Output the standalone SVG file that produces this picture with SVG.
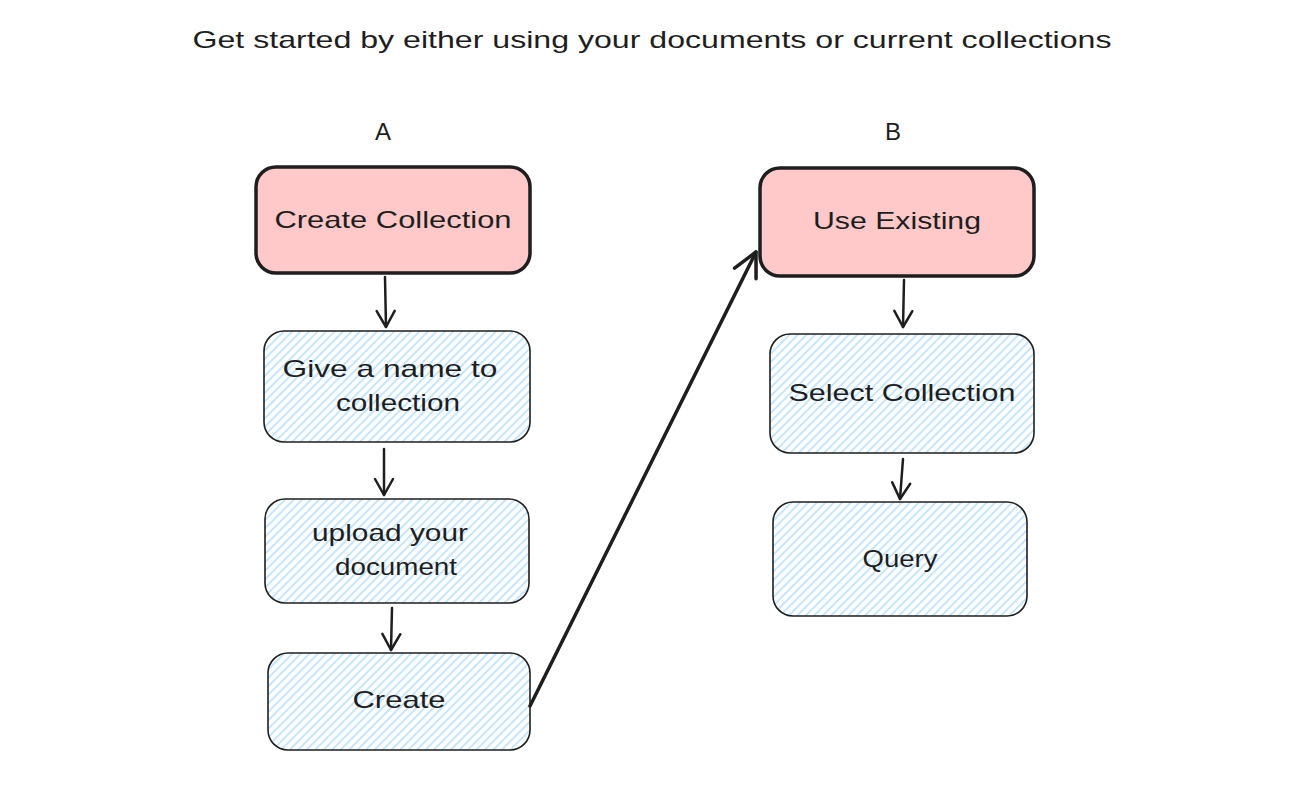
<svg xmlns="http://www.w3.org/2000/svg" width="1293" height="795" viewBox="0 0 1293 795">
<defs>
<style>
text{font-family:"Liberation Sans","DejaVu Sans",sans-serif;fill:#1e1e1e;text-anchor:middle}
.t{font-size:24px}
.pink{fill:#ffc9c9;stroke:#1e1e1e;stroke-width:3.5}
.blue{fill:url(#hatch);stroke:#1e1e1e;stroke-width:1.6}
.con{fill:none;stroke:#1e1e1e;stroke-width:2.5;stroke-linecap:round}
</style>
<pattern id="hatch" patternUnits="userSpaceOnUse" width="6" height="6" patternTransform="rotate(45)">
<line x1="3" y1="0" x2="3" y2="6" stroke="#a5d8ff" stroke-width="1.3"/>
</pattern>
<marker id="ah" markerUnits="userSpaceOnUse" markerWidth="30" markerHeight="30" refX="20" refY="15" orient="auto" viewBox="0 0 30 30">
<path d="M4,6 L20,15 L4,24" fill="none" stroke="#1e1e1e" stroke-width="2.5" stroke-linecap="round" stroke-linejoin="round"/>
</marker>
<marker id="ahb" markerUnits="userSpaceOnUse" markerWidth="40" markerHeight="40" refX="30" refY="20" orient="auto" viewBox="0 0 40 40">
<path d="M6,8 L30,20 L6,32" fill="none" stroke="#1e1e1e" stroke-width="3.5" stroke-linecap="round" stroke-linejoin="round"/>
</marker>
</defs>
<rect width="1293" height="795" fill="#ffffff"/>

<text class="t" x="652" y="48" textLength="919" lengthAdjust="spacingAndGlyphs">Get started by either using your documents or current collections</text>
<text class="t" x="383" y="140">A</text>
<text class="t" x="893" y="140">B</text>

<g id="create-collection">
<rect class="pink" x="256" y="167" width="274" height="106" rx="20"/>
<text class="t" x="393" y="228" textLength="237" lengthAdjust="spacingAndGlyphs">Create Collection</text>
</g>
<g id="give-name">
<rect class="blue" x="264" y="331" width="266" height="111" rx="20"/>
<text class="t" x="390" y="377" textLength="215" lengthAdjust="spacingAndGlyphs">Give a name to</text>
<text class="t" x="398" y="411" textLength="124" lengthAdjust="spacingAndGlyphs">collection</text>
</g>
<g id="upload">
<rect class="blue" x="265" y="499" width="264" height="104" rx="20"/>
<text class="t" x="390" y="541" textLength="156" lengthAdjust="spacingAndGlyphs">upload your</text>
<text class="t" x="396" y="575" textLength="122" lengthAdjust="spacingAndGlyphs">document</text>
</g>
<g id="create">
<rect class="blue" x="268" y="653" width="262" height="97" rx="20"/>
<text class="t" x="399" y="708" textLength="93" lengthAdjust="spacingAndGlyphs">Create</text>
</g>
<g id="use-existing">
<rect class="pink" x="760" y="168" width="274" height="108" rx="20"/>
<text class="t" x="897" y="229" textLength="168" lengthAdjust="spacingAndGlyphs">Use Existing</text>
</g>
<g id="select-collection">
<rect class="blue" x="770" y="334" width="264" height="119" rx="20"/>
<text class="t" x="902" y="401" textLength="227" lengthAdjust="spacingAndGlyphs">Select Collection</text>
</g>
<g id="query">
<rect class="blue" x="773" y="502" width="254" height="114" rx="20"/>
<text class="t" x="900" y="567" textLength="75" lengthAdjust="spacingAndGlyphs">Query</text>
</g>

<g id="connectors">
<path class="con" d="M385,277 L386,327" marker-end="url(#ah)"/>
<path class="con" d="M384,449 L384,495" marker-end="url(#ah)"/>
<path class="con" d="M392,608 L391,650" marker-end="url(#ah)"/>
<path class="con" d="M530,706 L756,252" marker-end="url(#ahb)" style="stroke-width:3.5"/>
<path class="con" d="M904,280 L903,327" marker-end="url(#ah)"/>
<path class="con" d="M903,459 L900,499" marker-end="url(#ah)"/>
</g>
</svg>
